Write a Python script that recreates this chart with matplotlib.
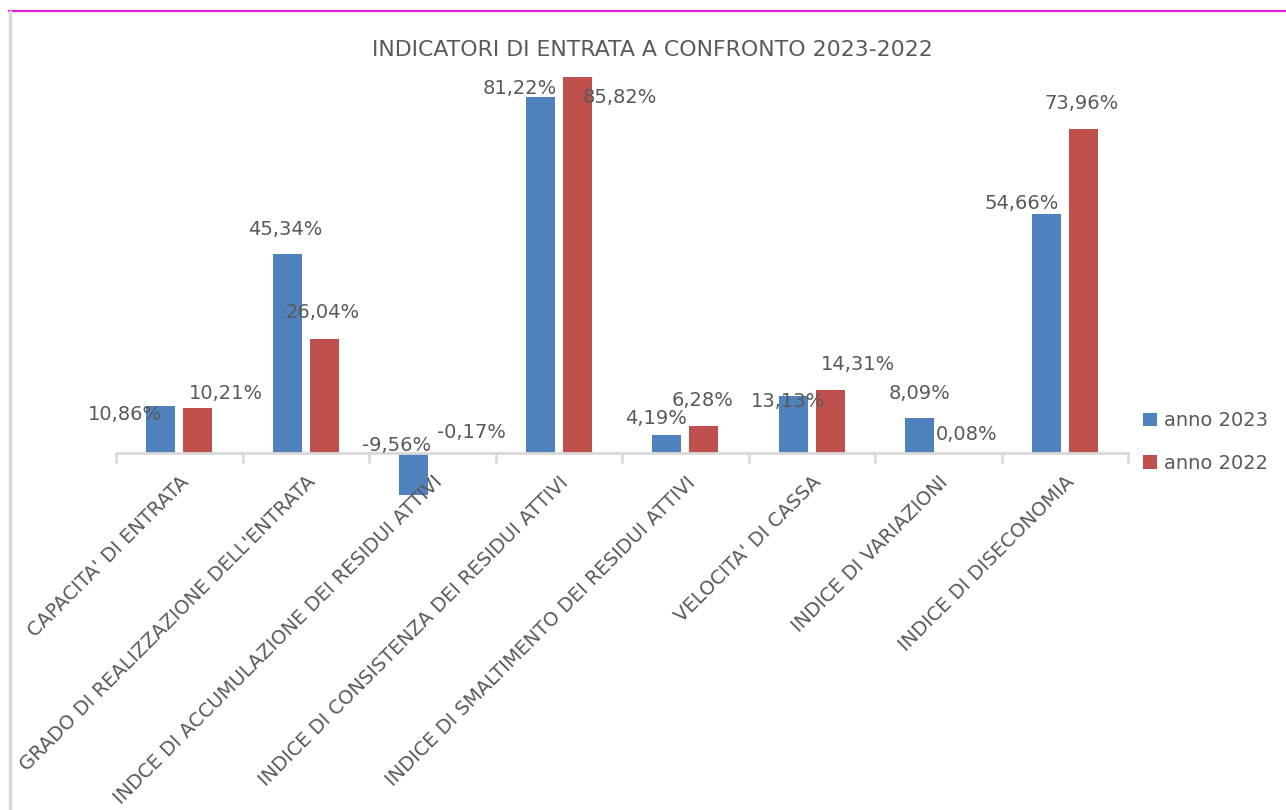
import numpy as np
import matplotlib.pyplot as plt
from matplotlib.lines import Line2D

categories = ["CAPACITA' DI ENTRATA",
              "GRADO DI REALIZZAZIONE DELL'ENTRATA",
              "INDCE DI ACCUMULAZIONE DEI RESIDUI ATTIVI",
              "INDICE DI CONSISTENZA DEI RESIDUI ATTIVI",
              "INDICE DI SMALTIMENTO DEI RESIDUI ATTIVI",
              "VELOCITA' DI CASSA",
              "INDICE DI VARIAZIONI",
              "INDICE DI DISECONOMIA"]
anno_2023 = [10.86, 45.34, -9.56, 81.22, 4.19, 13.13, 8.09, 54.66]
anno_2022 = [10.21, 26.04, -0.17, 85.82, 6.28, 14.31, 0.08, 73.96]
series_names = ['anno 2023', 'anno 2022']

# label offsets (pixels) from bar end, as placed in the original
off_2023 = [(-36, -9), (-2, 25), (-17, 50), (-21, 9), (-11, 16), (-5, -6), (0, 24), (-25, 10)]
off_2022 = [(28, 15), (-1, 26), (21, 21), (43, -20), (-1, 25), (28, 26), (10, 18), (-2, 25)]

blue = '#4f81bd'
red = '#c0504d'
txt = '#595959'
grid = '#d9d9d9'

plt.rcParams['font.family'] = ['DejaVu Sans']

fig = plt.figure(figsize=(12.86, 8.10), dpi=100)
ax = fig.add_axes([116 / 1286, 1 - 500 / 810, (1128 - 116) / 1286, 440 / 810])

x = np.arange(len(categories))
w = 0.23
d = 0.145
b1 = ax.bar(x - d, anno_2023, w, color=blue, label=series_names[0])
b2 = ax.bar(x + d, anno_2022, w, color=red, label=series_names[1])

def fmt(v):
    return ('%.2f%%' % v).replace('.', ',')

for bars, vals, offs in [(b1, anno_2023, off_2023), (b2, anno_2022, off_2022)]:
    for rect, v, (dx, dy) in zip(bars, vals, offs):
        xc = rect.get_x() + rect.get_width() / 2
        ax.annotate(fmt(v), (xc, v), xytext=(dx, dy), textcoords='offset pixels',
                    ha='center', va='center', fontsize=14, color=txt,
                    annotation_clip=False)

ax.set_xlim(-0.5, len(categories) - 0.5)
ax.set_ylim(-10.7, 89.7)
ax.set_yticks([])
for s in ['top', 'right', 'left']:
    ax.spines[s].set_visible(False)
ax.spines['bottom'].set_position(('data', 0))
ax.spines['bottom'].set_color(grid)
ax.spines['bottom'].set_linewidth(2)
ax.set_xticks(x)
ax.set_xticklabels(categories, rotation=45, ha='right', rotation_mode='anchor',
                   fontsize=14, color=txt)
ax.tick_params(axis='x', which='major', length=0, pad=14)
ax.set_xticks(np.arange(-0.5, len(categories)), minor=True)
ax.tick_params(axis='x', which='minor', length=7, width=2, color=grid)
ax.set_facecolor('none')

fig.text(652 / 1286, 1 - 50 / 810, 'INDICATORI DI ENTRATA A CONFRONTO 2023-2022',
         ha='center', va='center', fontsize=15.8, color=txt)

ax.legend(loc='center left', bbox_to_anchor=(1128 / 1286 - 0.002, 1 - 442 / 810),
          bbox_transform=fig.transFigure, frameon=False, fontsize=14,
          labelcolor=txt, handlelength=0.7, handleheight=0.7, handletextpad=0.4,
          labelspacing=1.2)

# chart frame fragments
fig.add_artist(Line2D([9 / 1286, 1], [1 - 11 / 810, 1 - 11 / 810],
                      transform=fig.transFigure, color='#dd22dd', lw=1.6))
fig.add_artist(Line2D([10 / 1286, 10 / 1286], [0, 1 - 12 / 810],
                      transform=fig.transFigure, color=grid, lw=2.5))

fig.savefig('out.png', dpi=100, facecolor='white')
